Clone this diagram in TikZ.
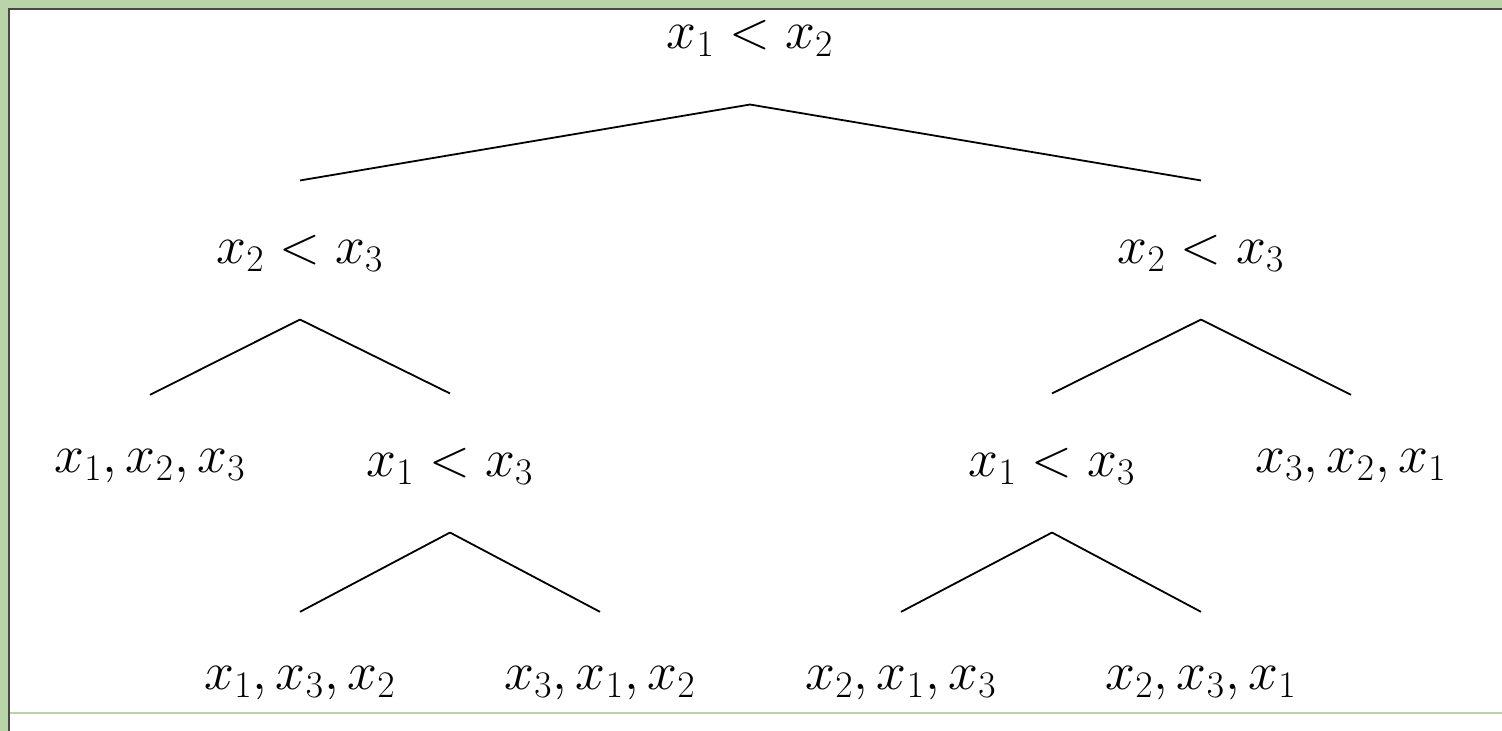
\RequirePackage{fix-cm}
\documentclass[tikz,border=0pt]{standalone}
\definecolor{sage}{RGB}{186,212,170}
\definecolor{frame}{RGB}{70,72,70}
\tikzset{
  lbl/.style={inner sep=0pt, font=\fontsize{26.8}{32}\selectfont},
  edge/.style={line width=0.9pt, black},
  up/.style={yshift=27pt},
  dn/.style={yshift=-24pt}
}
\begin{document}
\begin{tikzpicture}[x=0.5pt,y=-0.5pt]
\useasboundingbox (0,0) rectangle (1502,731);
\fill[sage] (0,0) rectangle (1502,731);
\fill[white] (10,10) rectangle (1502,731);
\fill[frame] (8,8) rectangle (1502,10);
\fill[frame] (8,8) rectangle (10,731);
\draw[sage, line width=0.8pt] (10,713) -- (1502,713);

\node[lbl] (r) at (750,38) {$x_1 < x_2$};
\node[lbl] (a) at (300,253) {$x_2 < x_3$};
\node[lbl] (b) at (1201,253) {$x_2 < x_3$};
\node[lbl] (a1) at (150,466) {$x_1, x_2, x_3$};
\node[lbl] (a2) at (450,466) {$x_1 < x_3$};
\node[lbl] (b1) at (1052,466) {$x_1 < x_3$};
\node[lbl] (b2) at (1351,466) {$x_3, x_2, x_1$};
\node[lbl] (c1) at (300,683) {$x_1, x_3, x_2$};
\node[lbl] (c2) at (600,683) {$x_3, x_1, x_2$};
\node[lbl] (d1) at (901,683) {$x_2, x_1, x_3$};
\node[lbl] (d2) at (1201,683) {$x_2, x_3, x_1$};

\draw[edge] ([dn]r.south) -- ([up]a.north);
\draw[edge] ([dn]r.south) -- ([up]b.north);
\draw[edge] ([dn]a.south) -- ([up]a1.north);
\draw[edge] ([dn]a.south) -- ([up]a2.north);
\draw[edge] ([dn]b.south) -- ([up]b1.north);
\draw[edge] ([dn]b.south) -- ([up]b2.north);
\draw[edge] ([dn]a2.south) -- ([up]c1.north);
\draw[edge] ([dn]a2.south) -- ([up]c2.north);
\draw[edge] ([dn]b1.south) -- ([up]d1.north);
\draw[edge] ([dn]b1.south) -- ([up]d2.north);
\end{tikzpicture}
\end{document}
